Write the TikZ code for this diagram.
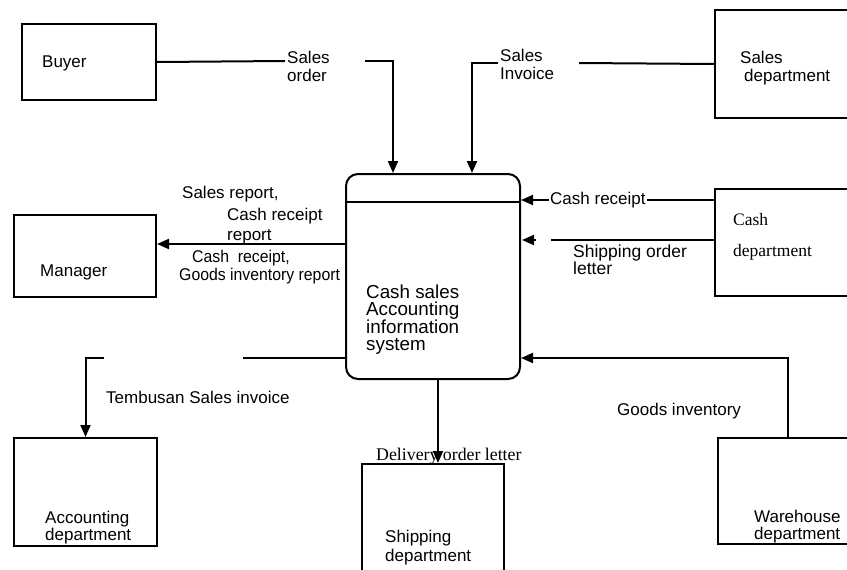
\documentclass[tikz,border=0pt]{standalone}
\usepackage{fontspec}
\setmainfont{Liberation Sans}
\newfontfamily\timesface{Liberation Serif}
\newfontfamily\narrowface[FakeStretch=0.93]{Liberation Sans}
\usetikzlibrary{arrows.meta,positioning}

\begin{document}
\begin{tikzpicture}[
  x=1pt, y=-1pt,
  font=\fontsize{17}{18}\selectfont,
  box/.style={draw, line width=2pt, inner sep=0pt, anchor=north west},
  proc/.style={draw, line width=2pt, rounded corners=12pt, inner sep=0pt, anchor=north west},
  txt/.style={inner sep=0pt, anchor=north west, align=left},
  flow/.style={line width=2pt},
  arr/.style={-{Triangle[length=12pt, width=10pt]}, line width=2pt},
]
\useasboundingbox (0,0) rectangle (847,570);

% ── entities ──────────────────────────────────────────────────────────────
\node[box, minimum width=134pt, minimum height=76pt]  (buyer)    at (21,23)   {};
\node[box, minimum width=146pt, minimum height=108pt] (salesdep) at (714,9)   {};
\node[box, minimum width=142pt, minimum height=82pt]  (mgr)      at (13,214)  {};
\node[box, minimum width=146pt, minimum height=107pt] (cashdep)  at (714,188) {};
\node[box, minimum width=143pt, minimum height=108pt] (accdep)   at (13,437)  {};
\node[box, minimum width=142pt, minimum height=117pt] (shipdep)  at (361,463) {};
\node[box, minimum width=140pt, minimum height=106pt] (whdep)    at (717,437) {};

\node[txt] (tbuyer) at (42,55.5)  {Buyer};
\node[txt] (tsales) at (740,50.5) {Sales\\\hspace*{4pt}department};
\node[txt] (tmgr)   at (40,264.5) {Manager};
\node[txt, font=\timesface\fontsize{17.5}{31}\selectfont] (tcash) at (733,213) {Cash\\department};
\node[txt, font=\fontsize{17}{17}\selectfont] (tacc)  at (45,510.5)  {Accounting\\department};
\node[txt, font=\fontsize{17}{19}\selectfont] (tship) at (385,529.5) {Shipping\\department};
\node[txt, font=\fontsize{17}{17}\selectfont] (twh)   at (754,509.5) {Warehouse\\department};

% ── process ───────────────────────────────────────────────────────────────
\node[proc, minimum width=174pt, minimum height=205pt] (sys) at (345,173) {};
\draw[flow] ([yshift=-29pt]sys.north west) -- ([yshift=-29pt]sys.north east);
\node[txt, font=\fontsize{18.8}{17}\selectfont] (tsys) at (366,284.5) {Cash sales\\Accounting\\information\\system};

% ── flows in ──────────────────────────────────────────────────────────────
\coordinate (so1) at (285,61);
\coordinate (so2) at (365,61);
\draw[flow] (buyer.east) -- (so1);
\draw[arr] (so2) -| ([xshift=48pt]sys.north west);
\node[txt] (lso) at (287,50.5) {Sales\\order};

\coordinate (si1) at (579,63);
\coordinate (si2) at (498,63);
\draw[flow] (salesdep.west) -- (si1);
\draw[arr] (si2) -| ([xshift=127pt]sys.north west);
\node[txt] (lsi) at (500,48.5) {Sales\\Invoice};

\coordinate (cr) at (714,200);
\draw[arr] (cr -| cashdep.west) -- (cr -| sys.east);
\node[fill=white, inner sep=1pt, anchor=west] (lcr) at (549,200) {Cash receipt};

\coordinate (sl1) at (551,240);
\coordinate (sl2) at (536,240);
\coordinate (sl3) at (522,240);
\draw[flow] (sl1 -| cashdep.west) -- (sl1);
\draw[arr] (sl2) -- (sl3);
\node[txt, font=\fontsize{17.5}{15}\selectfont] (lsl) at (573,244.5) {Shipping order\\letter};

\coordinate (gi) at (787,358);
\draw[arr] (whdep.north) |- (gi -| sys.east);
\node[txt] (lgi) at (617,402.5) {Goods inventory};

% ── flows out ─────────────────────────────────────────────────────────────
\coordinate (mg) at (345,244);
\draw[arr] (mg -| sys.west) -- (mg -| mgr.east);
\node[txt] (lrep1) at (182,185.5) {Sales report,};
\node[txt, font=\fontsize{17}{20}\selectfont] (lrep2) at (227,207.5) {Cash receipt\\report};
\node[txt, font=\narrowface\fontsize{17}{18}\selectfont] (lrep3) at (179,249.5) {\hspace*{13pt}Cash\ \ receipt,\\Goods inventory report};

\coordinate (ac1) at (243,358);
\coordinate (ac2) at (104,358);
\draw[flow] (ac1 -| sys.west) -- (ac1);
\draw[arr] (ac2) -| (accdep.north);
\node[txt] (lac) at (106,390.5) {Tembusan Sales invoice};

\draw[arr] ([xshift=5pt]sys.south) -- ([xshift=5pt]shipdep.north);
\node[txt, font=\timesface\fontsize{17.8}{18}\selectfont] (ldo) at (376,447.5) {Delivery order letter};
\end{tikzpicture}
\end{document}
